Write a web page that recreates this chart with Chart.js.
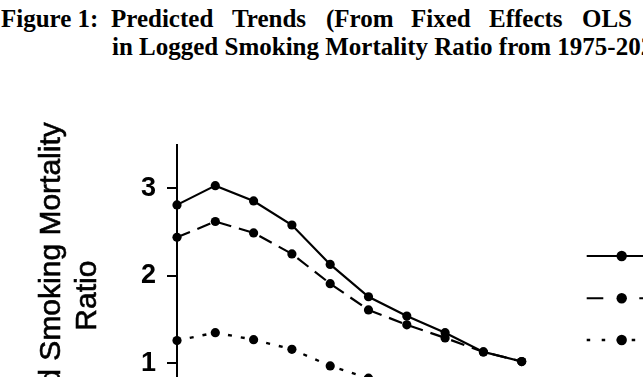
<!DOCTYPE html>
<html>
<head>
<meta charset="utf-8">
<script src="https://cdn.jsdelivr.net/npm/chart.js@4.4.0/dist/chart.umd.min.js"></script>
<style>
    html, body { margin: 0; padding: 0; background: #fff; overflow: hidden; width: 643px; height: 377px; }
    #chart { position: absolute; left: 0; top: 0; }
    .title { position: absolute; font-family: "Liberation Serif", "Times New Roman", serif; font-weight: bold; font-size: 25px; line-height: 1; white-space: nowrap; color: #000; }
    .l1 { top: 6px; }
    .l2 { top: 34px; }
</style>
</head>
<body>
<span class="title l1" style="left:1px">Figure 1:</span>
<span class="title l1" style="left:111px">Predicted</span>
<span class="title l1" style="left:232px">Trends</span>
<span class="title l1" style="left:326px">(From</span>
<span class="title l1" style="left:411px">Fixed</span>
<span class="title l1" style="left:489px">Effects</span>
<span class="title l1" style="left:582px">OLS</span>
<span class="title l2" style="left:112px">in Logged Smoking Mortality Ratio from 1975-2020</span>
<canvas id="chart" width="643" height="540"></canvas>
<script>
const years = [1975, 1980, 1985, 1990, 1995, 2000, 2005, 2010, 2015, 2020];
const solidSeries = [2.81, 3.03, 2.855, 2.58, 2.13, 1.76, 1.54, 1.35, 1.13, 1.02];
const dashedSeries = [2.44, 2.62, 2.49, 2.25, 1.91, 1.61, 1.44, 1.29, 1.13, 1.02];
const dottedSeries = [1.26, 1.35, 1.27, 1.16, 0.97, 0.83, 0.72, 0.63, 0.56, 0.50];
const yTicks = [0, 1, 2, 3];
const yTitle = ['Logged Smoking Mortality', 'Ratio'];

function toPoints(values) {
    return values.map((v, i) => ({ x: years[i], y: v }));
}

function lineDataset(values, dash, width) {
    return {
        data: toPoints(values),
        borderColor: '#000',
        borderWidth: width,
        borderDash: dash,
        pointRadius: 4.6,
        pointBackgroundColor: '#000',
        pointBorderWidth: 0,
        pointStyle: 'circle',
        tension: 0,
        clip: false,
        fill: false
    };
}

// y-axis title drawn by hand so the long first line is not squeezed
const yTitlePlugin = {
    id: 'yTitle',
    afterDraw(chart) {
        const ctx = chart.ctx;
        const area = chart.chartArea;
        const cy = (area.top + area.bottom) / 2 - 2;
        ctx.save();
        ctx.fillStyle = '#000';
        ctx.strokeStyle = '#000';
        ctx.lineWidth = 0.6;
        ctx.font = '30px "Liberation Sans", Arial, sans-serif';
        ctx.textAlign = 'center';
        ctx.textBaseline = 'middle';
        yTitle.forEach((line, i) => {
            ctx.save();
            ctx.translate(52 + i * 36, cy);
            ctx.rotate(-Math.PI / 2);
            ctx.fillText(line, 0, 0);
            ctx.strokeText(line, 0, 0);
            ctx.restore();
        });
        ctx.restore();
    }
};

const legendPlugin = {
    id: 'sideLegend',
    afterDraw(chart) {
        const ctx = chart.ctx;
        const rows = [
            { y: 256, dash: [], width: 2 },
            { y: 298.3, dash: [16.6, 36], width: 2 },
            { y: 340, dash: [3.5, 11.5], width: 2.4 }
        ];
        ctx.save();
        rows.forEach(row => {
            ctx.strokeStyle = '#000';
            ctx.lineWidth = row.width;
            ctx.setLineDash(row.dash);
            ctx.beginPath();
            ctx.moveTo(586.7, row.y);
            ctx.lineTo(657, row.y);
            ctx.stroke();
            ctx.setLineDash([]);
            ctx.fillStyle = '#000';
            ctx.beginPath();
            ctx.arc(621.7, row.y, 5.2, 0, Math.PI * 2);
            ctx.fill();
        });
        ctx.restore();
    }
};

new Chart(document.getElementById('chart'), {
    type: 'line',
    data: {
        datasets: [
            lineDataset(solidSeries, [], 2.2),
            lineDataset(dashedSeries, [14, 8], 2.2),
            lineDataset(dottedSeries, [4, 9], 2.4)
        ]
    },
    options: {
        responsive: false,
        animation: false,
        layout: { padding: { top: 144.5, left: 0, right: 83, bottom: 39.2 } },
        plugins: { legend: { display: false }, tooltip: { enabled: false } },
        scales: {
            x: {
                type: 'linear',
                min: 1975,
                max: 2025,
                afterFit: s => { s.height = 50; },
                ticks: { stepSize: 5, color: '#000', font: { family: 'Liberation Sans', size: 20, weight: 'bold' } },
                grid: { drawOnChartArea: false, tickLength: 10, color: '#000', lineWidth: 2 },
                border: { display: true, color: '#000', width: 2 }
            },
            y: {
                min: 0,
                max: 3.5,
                afterBuildTicks: s => { s.ticks = yTicks.map(v => ({ value: v })); },
                afterFit: s => { s.width = 177; },
                ticks: { color: '#000', padding: 11, font: { family: 'Liberation Sans', size: 27, weight: 'bold' } },
                grid: { drawOnChartArea: false, tickLength: 10, color: '#000', lineWidth: 2 },
                border: { display: true, color: '#000', width: 2 }
            }
        }
    },
    plugins: [yTitlePlugin, legendPlugin]
});
</script>
</body>
</html>
